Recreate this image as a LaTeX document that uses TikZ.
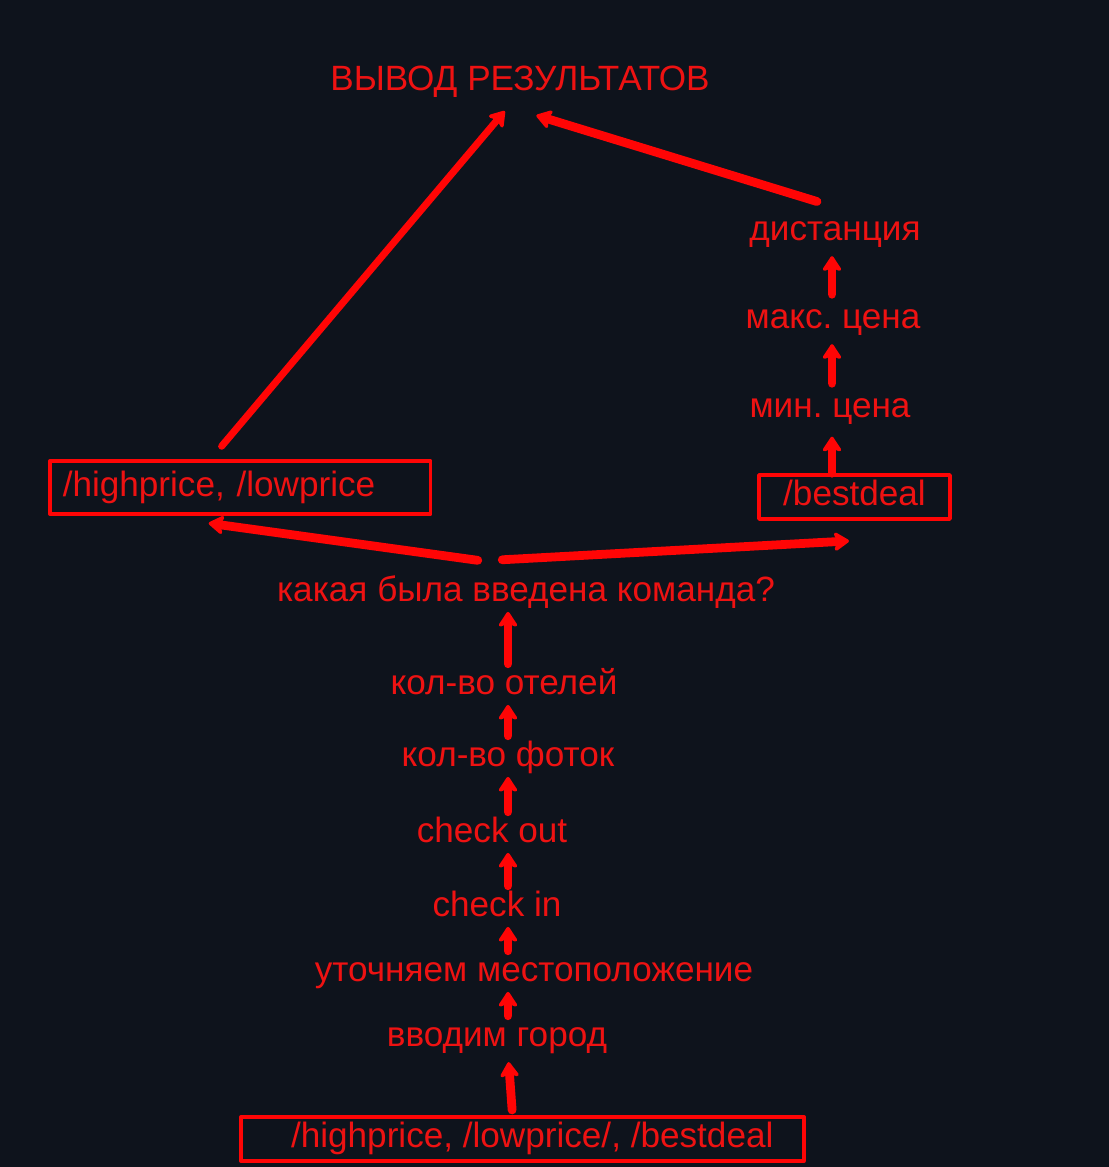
\documentclass[tikz,border=0pt]{standalone}
\usepackage{fontspec}
\setmainfont{Liberation Sans}
\usetikzlibrary{arrows.meta, calc}
\frenchspacing

\definecolor{bgdark}{HTML}{0E131C}
\definecolor{linered}{HTML}{FF0505}
\definecolor{textred}{HTML}{EE1212}

\begin{document}
\begin{tikzpicture}[line cap=round,line join=round,x=0.02cm,y=-0.02cm,
    txt/.style={text=textred, font=\fontsize{20}{24}\selectfont, inner sep=0pt, text height=14pt, text depth=4pt, anchor=base},
    cmdbox/.style={txt, anchor=center, draw=linered, line width=2pt, minimum height=0.88cm},
    arr/.style={draw=linered, line width=5pt, -{Stealth[round,length=10pt,width=13pt,inset=2.5pt]}, shorten >=2pt, shorten <=3pt}]

    % background
    \fill[bgdark] (0,0) rectangle (1109,1167);
    \useasboundingbox (0,0) rectangle (1109,1167);

    % spines for the vertical arrows
    \coordinate (spine) at (508,0);
    \coordinate (rspine) at (832,0);

    \node[txt] (title) at (520,90) {ВЫВОД РЕЗУЛЬТАТОВ};

    % bestdeal branch
    \node[txt] (dist) at (835,240) {дистанция};
    \node[txt] (maxp) at (833,328) {макс. цена};
    \node[txt] (minp) at (830,417) {мин. цена};
    \node[cmdbox, minimum width=3.82cm] (bd) at (854.5,497) {/bestdeal};

    % highprice / lowprice branch
    \node[cmdbox, anchor=west, minimum width=7.62cm, minimum height=1.06cm, text width=7.1cm, align=left] (hl) at (48,487.5) {/highprice, /lowprice};

    % main chain
    \node[txt] (query) at (526,601) {какая была введена команда?};
    \node[txt] (hotels) at (504,694) {кол-во отелей};
    \node[txt] (photos) at (508,766) {кол-во фоток};
    \node[txt] (cout) at (492,842) {check out};
    \node[txt] (cin) at (497,916) {check in};
    \node[txt] (spec) at (534,981) {уточняем местоположение};
    \node[txt] (city) at (497,1046) {вводим город};
    \node[cmdbox, minimum width=11.26cm] (cmds) at (522.5,1139) {\ \ /highprice, /lowprice/, /bestdeal};

    \draw[arr, shorten >=5pt] ($(cmds.north)+(-10,0)$) -- (spine |- city.south);
    \draw[arr] (spine |- city.north) -- (spine |- spec.south);
    \draw[arr] (spine |- spec.north) -- (spine |- cin.south);
    \draw[arr] (spine |- cin.north) -- (spine |- cout.south);
    \draw[arr] (spine |- cout.north) -- (spine |- photos.south);
    \draw[arr] (spine |- photos.north) -- (spine |- hotels.south);
    \draw[arr] (spine |- hotels.north) -- (spine |- query.south);

    \draw[arr] ($(query.north)+(-43,-15)$) -- ($(hl.south)+(-35,7)$);
    \draw[arr] ($(query.north)+(-29,-16)$) -- ($(bd.south)+(-2,20)$);

    \draw[arr, shorten <=0pt, shorten >=7pt] (rspine |- bd.north) -- (rspine |- minp.south);
    \draw[arr, shorten <=5pt, shorten >=5pt] (rspine |- minp.north) -- (rspine |- maxp.south);
    \draw[arr, shorten <=5pt, shorten >=5pt] (rspine |- maxp.north) -- (rspine |- dist.south);

    \draw[arr, line width=4pt] ($(hl.north)+(-22,-9)$) -- ($(title.south)+(-13,11)$);
    \draw[arr] ($(dist.north)+(-13,-12)$) -- ($(title.south)+(13,17)$);

\end{tikzpicture}
\end{document}
